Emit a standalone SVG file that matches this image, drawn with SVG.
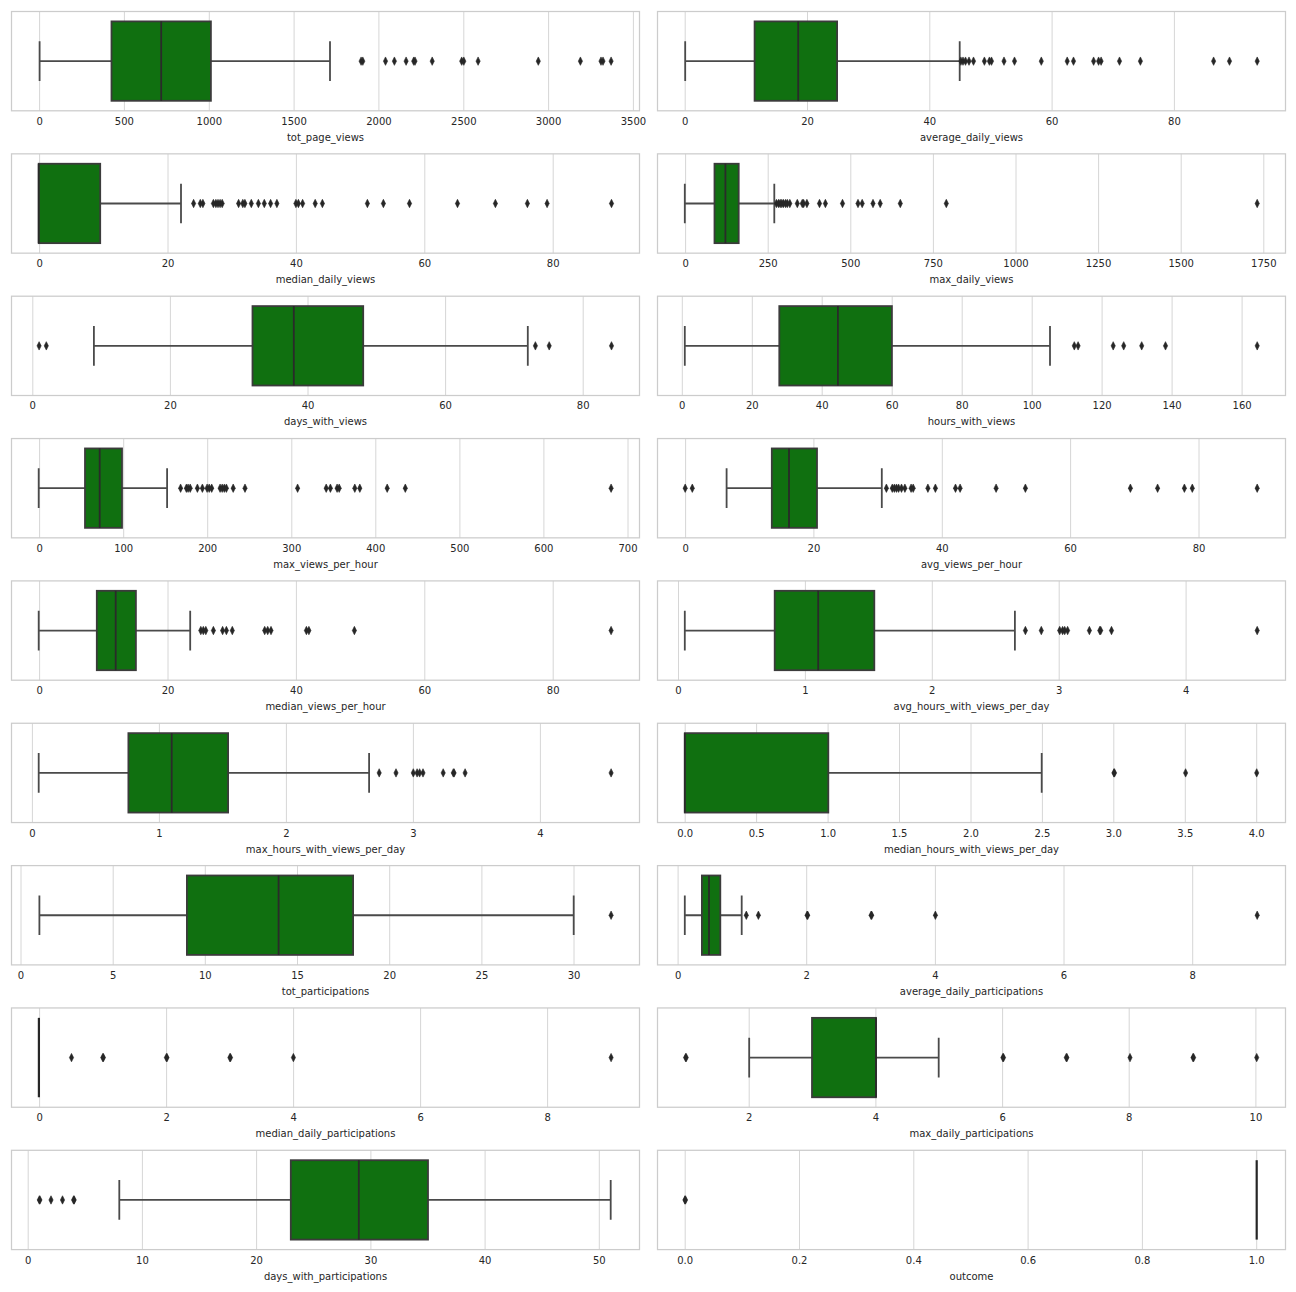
<svg xmlns="http://www.w3.org/2000/svg" width="1296" height="1292" viewBox="0 0 1296 1292">
<style>
.frame{fill:none;stroke:#cccccc;stroke-width:1.25}
.grid{fill:none;stroke:#d6d6d6;stroke-width:1}
.box{fill:#107010;stroke:#3b3b3b;stroke-width:1.8}
.wh{fill:none;stroke:#4a4a4a;stroke-width:1.8}
.med{fill:none;stroke:#2a2a2a;stroke-width:1.8}
.zero{fill:none;stroke:#262626;stroke-width:2.2}
.fl{fill:#262626;stroke:#262626;stroke-width:0.6}
.tk{font-family:"DejaVu Sans",Verdana,sans-serif;font-size:10px;fill:#262626;text-anchor:middle}
.lb{font-family:"DejaVu Sans",Verdana,sans-serif;font-size:10px;fill:#262626;text-anchor:middle}
</style>
<defs>
<path id="dm" d="M0,-4.2L2.1,0L0,4.2L-2.1,0Z"/>
</defs>
<rect width="1296" height="1292" fill="#ffffff"/>

<!-- Row 0 left: tot_page_views -->
<g id="p-tot_page_views" transform="translate(0,11.5)">
<path class="grid" d="M39.6,0V99.3M124.4,0V99.3M209.3,0V99.3M294.1,0V99.3M378.9,0V99.3M463.8,0V99.3M548.6,0V99.3M633.4,0V99.3"/>
<path class="wh" d="M39.6,49.65H111.5M210.9,49.65H330M39.6,29.8V69.5M330,29.8V69.5"/>
<rect class="box" x="111.5" y="9.9" width="99.4" height="79.4"/>
<path class="med" d="M161.2,9.9V89.3"/>
<g class="fl" transform="translate(0,49.65)">
<use href="#dm" x="361.1"/><use href="#dm" x="362.8"/><use href="#dm" x="385.5"/><use href="#dm" x="394.4"/><use href="#dm" x="406.1"/><use href="#dm" x="413.7"/><use href="#dm" x="415"/><use href="#dm" x="432.2"/><use href="#dm" x="461.7"/><use href="#dm" x="463.8"/><use href="#dm" x="478.1"/><use href="#dm" x="538.3"/><use href="#dm" x="580.4"/><use href="#dm" x="601"/><use href="#dm" x="603"/><use href="#dm" x="611.1"/>
</g>
<rect class="frame" x="11.5" y="0" width="628" height="99.3"/>
<g class="tk"><text x="39.6" y="113.3">0</text><text x="124.4" y="113.3">500</text><text x="209.3" y="113.3">1000</text><text x="294.1" y="113.3">1500</text><text x="378.9" y="113.3">2000</text><text x="463.8" y="113.3">2500</text><text x="548.6" y="113.3">3000</text><text x="633.4" y="113.3">3500</text></g>
<text class="lb" x="325.5" y="129.3">tot_page_views</text>
</g>

<!-- Row 0 right: average_daily_views -->
<g id="p-average_daily_views" transform="translate(0,11.5)">
<path class="grid" d="M685.2,0V99.3M807.5,0V99.3M929.8,0V99.3M1052.1,0V99.3M1174.4,0V99.3"/>
<path class="wh" d="M685.2,49.65H754.6M837.1,49.65H959.7M685.2,29.8V69.5M959.7,29.8V69.5"/>
<rect class="box" x="754.6" y="9.9" width="82.5" height="79.4"/>
<path class="med" d="M798.2,9.9V89.3"/>
<g class="fl" transform="translate(0,49.65)">
<use href="#dm" x="960.9"/><use href="#dm" x="963"/><use href="#dm" x="965.5"/><use href="#dm" x="969"/><use href="#dm" x="973.5"/><use href="#dm" x="984.4"/><use href="#dm" x="989.4"/><use href="#dm" x="991.5"/><use href="#dm" x="1004"/><use href="#dm" x="1014.5"/><use href="#dm" x="1041.3"/><use href="#dm" x="1067.2"/><use href="#dm" x="1073.5"/><use href="#dm" x="1093.6"/><use href="#dm" x="1098.6"/><use href="#dm" x="1101.1"/><use href="#dm" x="1119.5"/><use href="#dm" x="1140.4"/><use href="#dm" x="1213.6"/><use href="#dm" x="1229.5"/><use href="#dm" x="1257.2"/>
</g>
<rect class="frame" x="657.5" y="0" width="628" height="99.3"/>
<g class="tk"><text x="685.2" y="113.3">0</text><text x="807.5" y="113.3">20</text><text x="929.8" y="113.3">40</text><text x="1052.1" y="113.3">60</text><text x="1174.4" y="113.3">80</text></g>
<text class="lb" x="971.5" y="129.3">average_daily_views</text>
</g>

<!-- Row 1 left: median_daily_views -->
<g id="p-median_daily_views" transform="translate(0,153.85)">
<path class="grid" d="M39.6,0V99.3M168,0V99.3M296.4,0V99.3M424.8,0V99.3M553.2,0V99.3"/>
<path class="wh" d="M100.2,49.65H181M181,29.8V69.5"/>
<rect class="box" x="38.7" y="9.9" width="61.5" height="79.4"/>
<path class="med" d="M38.7,9.9V89.3"/>
<g class="fl" transform="translate(0,49.65)">
<use href="#dm" x="193.6"/><use href="#dm" x="200.3"/><use href="#dm" x="202.9"/><use href="#dm" x="213.4"/><use href="#dm" x="215.9"/><use href="#dm" x="218"/><use href="#dm" x="220.1"/><use href="#dm" x="222.2"/><use href="#dm" x="238.6"/><use href="#dm" x="242.8"/><use href="#dm" x="244.9"/><use href="#dm" x="251.3"/><use href="#dm" x="258.4"/><use href="#dm" x="264.3"/><use href="#dm" x="270.6"/><use href="#dm" x="276.9"/><use href="#dm" x="295.9"/><use href="#dm" x="298.4"/><use href="#dm" x="302.6"/><use href="#dm" x="315.2"/><use href="#dm" x="322.4"/><use href="#dm" x="367.4"/><use href="#dm" x="383.4"/><use href="#dm" x="409.5"/><use href="#dm" x="457.5"/><use href="#dm" x="495.4"/><use href="#dm" x="527.4"/><use href="#dm" x="547.1"/><use href="#dm" x="611.5"/>
</g>
<rect class="frame" x="11.5" y="0" width="628" height="99.3"/>
<g class="tk"><text x="39.6" y="113.3">0</text><text x="168" y="113.3">20</text><text x="296.4" y="113.3">40</text><text x="424.8" y="113.3">60</text><text x="553.2" y="113.3">80</text></g>
<text class="lb" x="325.5" y="129.3">median_daily_views</text>
</g>

<!-- Row 1 right: max_daily_views -->
<g id="p-max_daily_views" transform="translate(0,153.85)">
<path class="grid" d="M685.6,0V99.3M768.2,0V99.3M850.8,0V99.3M933.4,0V99.3M1016,0V99.3M1098.6,0V99.3M1181.2,0V99.3M1263.8,0V99.3"/>
<path class="wh" d="M684.8,49.65H714.5M738.7,49.65H774.3M684.8,29.8V69.5M774.3,29.8V69.5"/>
<rect class="box" x="714.5" y="9.9" width="24.2" height="79.4"/>
<path class="med" d="M725.4,9.9V89.3"/>
<g class="fl" transform="translate(0,49.65)">
<use href="#dm" x="776.4"/><use href="#dm" x="778.5"/><use href="#dm" x="780.2"/><use href="#dm" x="781.8"/><use href="#dm" x="783.5"/><use href="#dm" x="785.6"/><use href="#dm" x="787.3"/><use href="#dm" x="789.8"/><use href="#dm" x="797.3"/><use href="#dm" x="802.3"/><use href="#dm" x="803.6"/><use href="#dm" x="806.9"/><use href="#dm" x="819.5"/><use href="#dm" x="825.4"/><use href="#dm" x="842.5"/><use href="#dm" x="858"/><use href="#dm" x="862.2"/><use href="#dm" x="873"/><use href="#dm" x="880.2"/><use href="#dm" x="900.3"/><use href="#dm" x="946.3"/><use href="#dm" x="1257.2"/>
</g>
<rect class="frame" x="657.5" y="0" width="628" height="99.3"/>
<g class="tk"><text x="685.6" y="113.3">0</text><text x="768.2" y="113.3">250</text><text x="850.8" y="113.3">500</text><text x="933.4" y="113.3">750</text><text x="1016" y="113.3">1000</text><text x="1098.6" y="113.3">1250</text><text x="1181.2" y="113.3">1500</text><text x="1263.8" y="113.3">1750</text></g>
<text class="lb" x="971.5" y="129.3">max_daily_views</text>
</g>

<!-- Row 2 left: days_with_views -->
<g id="p-days_with_views" transform="translate(0,296.2)">
<path class="grid" d="M32.8,0V99.3M170.4,0V99.3M308,0V99.3M445.6,0V99.3M583.2,0V99.3"/>
<path class="wh" d="M93.9,49.65H252.5M363.2,49.65H527.8M93.9,29.8V69.5M527.8,29.8V69.5"/>
<rect class="box" x="252.5" y="9.9" width="110.7" height="79.4"/>
<path class="med" d="M293.8,9.9V89.3"/>
<g class="fl" transform="translate(0,49.65)">
<use href="#dm" x="39.1"/><use href="#dm" x="46.3"/><use href="#dm" x="535.4"/><use href="#dm" x="549.2"/><use href="#dm" x="611.5"/>
</g>
<rect class="frame" x="11.5" y="0" width="628" height="99.3"/>
<g class="tk"><text x="32.8" y="113.3">0</text><text x="170.4" y="113.3">20</text><text x="308" y="113.3">40</text><text x="445.6" y="113.3">60</text><text x="583.2" y="113.3">80</text></g>
<text class="lb" x="325.5" y="129.3">days_with_views</text>
</g>

<!-- Row 2 right: hours_with_views -->
<g id="p-hours_with_views" transform="translate(0,296.2)">
<path class="grid" d="M682.3,0V99.3M752.3,0V99.3M822.2,0V99.3M892.2,0V99.3M962.2,0V99.3M1032.2,0V99.3M1102.1,0V99.3M1172.1,0V99.3M1242.1,0V99.3"/>
<path class="wh" d="M684.8,49.65H779.3M891.9,49.65H1050M684.8,29.8V69.5M1050,29.8V69.5"/>
<rect class="box" x="779.3" y="9.9" width="112.6" height="79.4"/>
<path class="med" d="M837.9,9.9V89.3"/>
<g class="fl" transform="translate(0,49.65)">
<use href="#dm" x="1074.3"/><use href="#dm" x="1078.1"/><use href="#dm" x="1113.2"/><use href="#dm" x="1123.7"/><use href="#dm" x="1141.7"/><use href="#dm" x="1165.5"/><use href="#dm" x="1257.2"/>
</g>
<rect class="frame" x="657.5" y="0" width="628" height="99.3"/>
<g class="tk"><text x="682.3" y="113.3">0</text><text x="752.3" y="113.3">20</text><text x="822.2" y="113.3">40</text><text x="892.2" y="113.3">60</text><text x="962.2" y="113.3">80</text><text x="1032.2" y="113.3">100</text><text x="1102.1" y="113.3">120</text><text x="1172.1" y="113.3">140</text><text x="1242.1" y="113.3">160</text></g>
<text class="lb" x="971.5" y="129.3">hours_with_views</text>
</g>

<!-- Row 3 left: max_views_per_hour -->
<g id="p-max_views_per_hour" transform="translate(0,438.55)">
<path class="grid" d="M39.6,0V99.3M123.7,0V99.3M207.7,0V99.3M291.8,0V99.3M375.8,0V99.3M459.9,0V99.3M543.9,0V99.3M628,0V99.3"/>
<path class="wh" d="M38.7,49.65H85M122,49.65H167.1M38.7,29.8V69.5M167.1,29.8V69.5"/>
<rect class="box" x="85" y="9.9" width="37" height="79.4"/>
<path class="med" d="M99.7,9.9V89.3"/>
<g class="fl" transform="translate(0,49.65)">
<use href="#dm" x="180.6"/><use href="#dm" x="186.4"/><use href="#dm" x="188.1"/><use href="#dm" x="190.2"/><use href="#dm" x="197.4"/><use href="#dm" x="202.4"/><use href="#dm" x="207.1"/><use href="#dm" x="209.2"/><use href="#dm" x="211.7"/><use href="#dm" x="220.1"/><use href="#dm" x="222.2"/><use href="#dm" x="224.3"/><use href="#dm" x="226.4"/><use href="#dm" x="233.2"/><use href="#dm" x="245"/><use href="#dm" x="297.6"/><use href="#dm" x="326.2"/><use href="#dm" x="330.4"/><use href="#dm" x="337.1"/><use href="#dm" x="339.2"/><use href="#dm" x="354.8"/><use href="#dm" x="359.8"/><use href="#dm" x="387.2"/><use href="#dm" x="405.3"/><use href="#dm" x="611.1"/>
</g>
<rect class="frame" x="11.5" y="0" width="628" height="99.3"/>
<g class="tk"><text x="39.6" y="113.3">0</text><text x="123.7" y="113.3">100</text><text x="207.7" y="113.3">200</text><text x="291.8" y="113.3">300</text><text x="375.8" y="113.3">400</text><text x="459.9" y="113.3">500</text><text x="543.9" y="113.3">600</text><text x="628" y="113.3">700</text></g>
<text class="lb" x="325.5" y="129.3">max_views_per_hour</text>
</g>

<!-- Row 3 right: avg_views_per_hour -->
<g id="p-avg_views_per_hour" transform="translate(0,438.55)">
<path class="grid" d="M685.6,0V99.3M813.9,0V99.3M942.3,0V99.3M1070.6,0V99.3M1199,0V99.3"/>
<path class="wh" d="M726.6,49.65H771.8M817,49.65H881.8M726.6,29.8V69.5M881.8,29.8V69.5"/>
<rect class="box" x="771.8" y="9.9" width="45.2" height="79.4"/>
<path class="med" d="M789,9.9V89.3"/>
<g class="fl" transform="translate(0,49.65)">
<use href="#dm" x="685.2"/><use href="#dm" x="692.3"/><use href="#dm" x="886.4"/><use href="#dm" x="892.3"/><use href="#dm" x="894.4"/><use href="#dm" x="896.5"/><use href="#dm" x="898.6"/><use href="#dm" x="901.5"/><use href="#dm" x="904.9"/><use href="#dm" x="911.1"/><use href="#dm" x="913.2"/><use href="#dm" x="927.9"/><use href="#dm" x="935.4"/><use href="#dm" x="955.5"/><use href="#dm" x="960.1"/><use href="#dm" x="996.1"/><use href="#dm" x="1025.4"/><use href="#dm" x="1130.4"/><use href="#dm" x="1157.6"/><use href="#dm" x="1184.4"/><use href="#dm" x="1192.3"/><use href="#dm" x="1257.2"/>
</g>
<rect class="frame" x="657.5" y="0" width="628" height="99.3"/>
<g class="tk"><text x="685.6" y="113.3">0</text><text x="813.9" y="113.3">20</text><text x="942.3" y="113.3">40</text><text x="1070.6" y="113.3">60</text><text x="1199" y="113.3">80</text></g>
<text class="lb" x="971.5" y="129.3">avg_views_per_hour</text>
</g>

<!-- Row 4 left: median_views_per_hour -->
<g id="p-median_views_per_hour" transform="translate(0,580.9)">
<path class="grid" d="M39.6,0V99.3M168,0V99.3M296.4,0V99.3M424.8,0V99.3M553.2,0V99.3"/>
<path class="wh" d="M38.7,49.65H96.8M135.9,49.65H190.2M38.7,29.8V69.5M190.2,29.8V69.5"/>
<rect class="box" x="96.8" y="9.9" width="39.1" height="79.4"/>
<path class="med" d="M115.7,9.9V89.3"/>
<g class="fl" transform="translate(0,49.65)">
<use href="#dm" x="200.8"/><use href="#dm" x="203.3"/><use href="#dm" x="205.8"/><use href="#dm" x="213.4"/><use href="#dm" x="222.6"/><use href="#dm" x="226.4"/><use href="#dm" x="232.3"/><use href="#dm" x="264.7"/><use href="#dm" x="267.7"/><use href="#dm" x="271"/><use href="#dm" x="306.4"/><use href="#dm" x="308.9"/><use href="#dm" x="354.4"/><use href="#dm" x="611.1"/>
</g>
<rect class="frame" x="11.5" y="0" width="628" height="99.3"/>
<g class="tk"><text x="39.6" y="113.3">0</text><text x="168" y="113.3">20</text><text x="296.4" y="113.3">40</text><text x="424.8" y="113.3">60</text><text x="553.2" y="113.3">80</text></g>
<text class="lb" x="325.5" y="129.3">median_views_per_hour</text>
</g>

<!-- Row 4 right: avg_hours_with_views_per_day -->
<g id="p-avg_hours_with_views_per_day" transform="translate(0,580.9)">
<path class="grid" d="M678.5,0V99.3M805.4,0V99.3M932.3,0V99.3M1059.2,0V99.3M1186.1,0V99.3"/>
<path class="wh" d="M684.8,49.65H774.7M874.3,49.65H1014.9M684.8,29.8V69.5M1014.9,29.8V69.5"/>
<rect class="box" x="774.7" y="9.9" width="99.6" height="79.4"/>
<path class="med" d="M818.2,9.9V89.3"/>
<g class="fl" transform="translate(0,49.65)">
<use href="#dm" x="1025.4"/><use href="#dm" x="1041.3"/><use href="#dm" x="1059.7"/><use href="#dm" x="1062.6"/><use href="#dm" x="1064.7"/><use href="#dm" x="1067.6"/><use href="#dm" x="1089.4"/><use href="#dm" x="1099.8"/><use href="#dm" x="1100.7"/><use href="#dm" x="1111.5"/><use href="#dm" x="1257.2"/>
</g>
<rect class="frame" x="657.5" y="0" width="628" height="99.3"/>
<g class="tk"><text x="678.5" y="113.3">0</text><text x="805.4" y="113.3">1</text><text x="932.3" y="113.3">2</text><text x="1059.2" y="113.3">3</text><text x="1186.1" y="113.3">4</text></g>
<text class="lb" x="971.5" y="129.3">avg_hours_with_views_per_day</text>
</g>

<!-- Row 5 left: max_hours_with_views_per_day -->
<g id="p-max_hours_with_views_per_day" transform="translate(0,723.25)">
<path class="grid" d="M32.4,0V99.3M159.4,0V99.3M286.4,0V99.3M413.4,0V99.3M540.4,0V99.3"/>
<path class="wh" d="M38.7,49.65H128.4M228.1,49.65H369.1M38.7,29.8V69.5M369.1,29.8V69.5"/>
<rect class="box" x="128.4" y="9.9" width="99.7" height="79.4"/>
<path class="med" d="M171.7,9.9V89.3"/>
<g class="fl" transform="translate(0,49.65)">
<use href="#dm" x="379.2"/><use href="#dm" x="396"/><use href="#dm" x="413.3"/><use href="#dm" x="417.1"/><use href="#dm" x="419.6"/><use href="#dm" x="423"/><use href="#dm" x="443.2"/><use href="#dm" x="453.3"/><use href="#dm" x="454.1"/><use href="#dm" x="465.1"/><use href="#dm" x="611.1"/>
</g>
<rect class="frame" x="11.5" y="0" width="628" height="99.3"/>
<g class="tk"><text x="32.4" y="113.3">0</text><text x="159.4" y="113.3">1</text><text x="286.4" y="113.3">2</text><text x="413.4" y="113.3">3</text><text x="540.4" y="113.3">4</text></g>
<text class="lb" x="325.5" y="129.3">max_hours_with_views_per_day</text>
</g>

<!-- Row 5 right: median_hours_with_views_per_day -->
<g id="p-median_hours_with_views_per_day" transform="translate(0,723.25)">
<path class="grid" d="M685.2,0V99.3M756.6,0V99.3M828.1,0V99.3M899.5,0V99.3M971,0V99.3M1042.4,0V99.3M1113.8,0V99.3M1185.3,0V99.3M1256.7,0V99.3"/>
<path class="wh" d="M828.3,49.65H1041.7M1041.7,29.8V69.5"/>
<rect class="box" x="684.8" y="9.9" width="143.5" height="79.4"/>
<path class="med" d="M684.8,9.9V89.3"/>
<g class="fl" transform="translate(0,49.65)">
<use href="#dm" x="1113.9"/><use href="#dm" x="1114.5"/><use href="#dm" x="1185.6"/><use href="#dm" x="1256.7"/>
</g>
<rect class="frame" x="657.5" y="0" width="628" height="99.3"/>
<g class="tk"><text x="685.2" y="113.3">0.0</text><text x="756.6" y="113.3">0.5</text><text x="828.1" y="113.3">1.0</text><text x="899.5" y="113.3">1.5</text><text x="971" y="113.3">2.0</text><text x="1042.4" y="113.3">2.5</text><text x="1113.8" y="113.3">3.0</text><text x="1185.3" y="113.3">3.5</text><text x="1256.7" y="113.3">4.0</text></g>
<text class="lb" x="971.5" y="129.3">median_hours_with_views_per_day</text>
</g>

<!-- Row 6 left: tot_participations -->
<g id="p-tot_participations" transform="translate(0,865.6)">
<path class="grid" d="M21,0V99.3M113.2,0V99.3M205.3,0V99.3M297.5,0V99.3M389.7,0V99.3M481.9,0V99.3M574,0V99.3"/>
<path class="wh" d="M39.4,49.65H186.9M353.1,49.65H573.7M39.4,29.8V69.5M573.7,29.8V69.5"/>
<rect class="box" x="186.9" y="9.9" width="166.2" height="79.4"/>
<path class="med" d="M278.6,9.9V89.3"/>
<g class="fl" transform="translate(0,49.65)">
<use href="#dm" x="611.1"/>
</g>
<rect class="frame" x="11.5" y="0" width="628" height="99.3"/>
<g class="tk"><text x="21" y="113.3">0</text><text x="113.2" y="113.3">5</text><text x="205.3" y="113.3">10</text><text x="297.5" y="113.3">15</text><text x="389.7" y="113.3">20</text><text x="481.9" y="113.3">25</text><text x="574" y="113.3">30</text></g>
<text class="lb" x="325.5" y="129.3">tot_participations</text>
</g>

<!-- Row 6 right: average_daily_participations -->
<g id="p-average_daily_participations" transform="translate(0,865.6)">
<path class="grid" d="M678.1,0V99.3M806.7,0V99.3M935.4,0V99.3M1064,0V99.3M1192.7,0V99.3"/>
<path class="wh" d="M684.8,49.65H701.9M720.3,49.65H741.7M684.8,29.8V69.5M741.7,29.8V69.5"/>
<rect class="box" x="701.9" y="9.9" width="18.4" height="79.4"/>
<path class="med" d="M709,9.9V89.3"/>
<g class="fl" transform="translate(0,49.65)">
<use href="#dm" x="746.3"/><use href="#dm" x="758.4"/><use href="#dm" x="807.1"/><use href="#dm" x="807.7"/><use href="#dm" x="871.1"/><use href="#dm" x="871.7"/><use href="#dm" x="935.4"/><use href="#dm" x="1257.2"/>
</g>
<rect class="frame" x="657.5" y="0" width="628" height="99.3"/>
<g class="tk"><text x="678.1" y="113.3">0</text><text x="806.7" y="113.3">2</text><text x="935.4" y="113.3">4</text><text x="1064" y="113.3">6</text><text x="1192.7" y="113.3">8</text></g>
<text class="lb" x="971.5" y="129.3">average_daily_participations</text>
</g>

<!-- Row 7 left: median_daily_participations -->
<g id="p-median_daily_participations" transform="translate(0,1007.95)">
<path class="grid" d="M39.6,0V99.3M166.6,0V99.3M293.6,0V99.3M420.6,0V99.3M547.6,0V99.3"/>
<path class="zero" d="M38.9,9.9V89.3"/>
<g class="fl" transform="translate(0,49.65)">
<use href="#dm" x="71.5"/><use href="#dm" x="102.8"/><use href="#dm" x="103.4"/><use href="#dm" x="166.4"/><use href="#dm" x="167"/><use href="#dm" x="229.9"/><use href="#dm" x="230.5"/><use href="#dm" x="293.4"/><use href="#dm" x="611.1"/>
</g>
<rect class="frame" x="11.5" y="0" width="628" height="99.3"/>
<g class="tk"><text x="39.6" y="113.3">0</text><text x="166.6" y="113.3">2</text><text x="293.6" y="113.3">4</text><text x="420.6" y="113.3">6</text><text x="547.6" y="113.3">8</text></g>
<text class="lb" x="325.5" y="129.3">median_daily_participations</text>
</g>

<!-- Row 7 right: max_daily_participations -->
<g id="p-max_daily_participations" transform="translate(0,1007.95)">
<path class="grid" d="M749.2,0V99.3M875.9,0V99.3M1002.6,0V99.3M1129.2,0V99.3M1255.9,0V99.3"/>
<path class="wh" d="M749.2,49.65H812M876,49.65H938.7M749.2,29.8V69.5M938.7,29.8V69.5"/>
<rect class="box" x="812" y="9.9" width="64" height="79.4"/>
<path class="med" d="M876,9.9V89.3"/>
<g class="fl" transform="translate(0,49.65)">
<use href="#dm" x="685.6"/><use href="#dm" x="686.2"/><use href="#dm" x="1002.9"/><use href="#dm" x="1003.5"/><use href="#dm" x="1066.3"/><use href="#dm" x="1066.9"/><use href="#dm" x="1130"/><use href="#dm" x="1193"/><use href="#dm" x="1193.6"/><use href="#dm" x="1256.7"/>
</g>
<rect class="frame" x="657.5" y="0" width="628" height="99.3"/>
<g class="tk"><text x="749.2" y="113.3">2</text><text x="875.9" y="113.3">4</text><text x="1002.6" y="113.3">6</text><text x="1129.2" y="113.3">8</text><text x="1255.9" y="113.3">10</text></g>
<text class="lb" x="971.5" y="129.3">max_daily_participations</text>
</g>

<!-- Row 8 left: days_with_participations -->
<g id="p-days_with_participations" transform="translate(0,1150.3)">
<path class="grid" d="M28.2,0V99.3M142.4,0V99.3M256.6,0V99.3M370.9,0V99.3M485.1,0V99.3M599.3,0V99.3"/>
<path class="wh" d="M119.3,49.65H290.8M428,49.65H610.7M119.3,29.8V69.5M610.7,29.8V69.5"/>
<rect class="box" x="290.8" y="9.9" width="137.2" height="79.4"/>
<path class="med" d="M358.8,9.9V89.3"/>
<g class="fl" transform="translate(0,49.65)">
<use href="#dm" x="39.3"/><use href="#dm" x="39.9"/><use href="#dm" x="51"/><use href="#dm" x="62.5"/><use href="#dm" x="73.6"/><use href="#dm" x="74.2"/>
</g>
<rect class="frame" x="11.5" y="0" width="628" height="99.3"/>
<g class="tk"><text x="28.2" y="113.3">0</text><text x="142.4" y="113.3">10</text><text x="256.6" y="113.3">20</text><text x="370.9" y="113.3">30</text><text x="485.1" y="113.3">40</text><text x="599.3" y="113.3">50</text></g>
<text class="lb" x="325.5" y="129.3">days_with_participations</text>
</g>

<!-- Row 8 right: outcome -->
<g id="p-outcome" transform="translate(0,1150.3)">
<path class="grid" d="M685.2,0V99.3M799.5,0V99.3M913.8,0V99.3M1028.1,0V99.3M1142.4,0V99.3M1256.7,0V99.3"/>
<path class="zero" d="M1256.7,9.9V89.3"/>
<g class="fl" transform="translate(0,49.65)">
<use href="#dm" x="684.9"/><use href="#dm" x="685.5"/>
</g>
<rect class="frame" x="657.5" y="0" width="628" height="99.3"/>
<g class="tk"><text x="685.2" y="113.3">0.0</text><text x="799.5" y="113.3">0.2</text><text x="913.8" y="113.3">0.4</text><text x="1028.1" y="113.3">0.6</text><text x="1142.4" y="113.3">0.8</text><text x="1256.7" y="113.3">1.0</text></g>
<text class="lb" x="971.5" y="129.3">outcome</text>
</g>
</svg>
